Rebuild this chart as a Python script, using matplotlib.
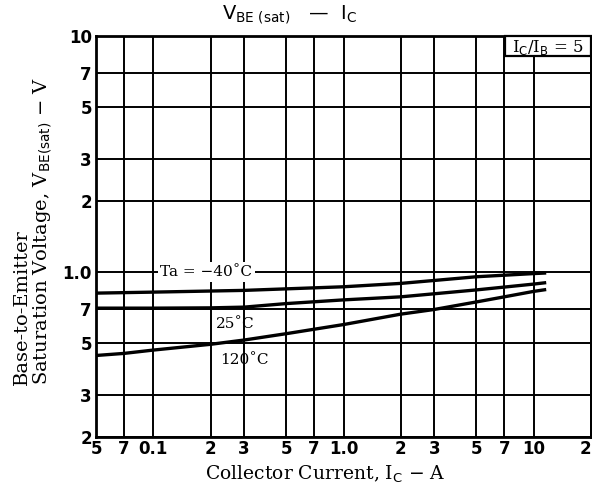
import matplotlib
matplotlib.use("Agg")
import matplotlib.pyplot as plt
from matplotlib.patches import Rectangle
from matplotlib.ticker import FixedLocator, FixedFormatter, NullLocator

# Data
ic_m40 = [0.05, 0.1, 0.3, 1.0, 2.0, 5.0, 10.0, 11.4]
vbe_m40 = [0.814, 0.822, 0.836, 0.866, 0.895, 0.955, 0.985, 0.99]

ic_25 = [0.05, 0.1, 0.2, 0.3, 0.5, 1.0, 2.0, 5.0, 10.0, 11.4]
vbe_25 = [0.703, 0.703, 0.705, 0.71, 0.735, 0.762, 0.785, 0.84, 0.889, 0.9]

ic_120 = [0.05, 0.07, 0.1, 0.2, 0.3, 0.5, 1.0, 2.0, 3.0, 5.0, 7.0, 10.0, 11.4]
vbe_120 = [0.443, 0.452, 0.467, 0.494, 0.515, 0.548, 0.599, 0.663, 0.694, 0.747, 0.785, 0.828, 0.841]

x_ticks = [0.05, 0.07, 0.1, 0.2, 0.3, 0.5, 0.7, 1.0, 2.0, 3.0, 5.0, 7.0, 10.0, 20.0]
x_labels = ["5", "7", "0.1", "2", "3", "5", "7", "1.0", "2", "3", "5", "7", "10", "2"]
y_ticks = [0.2, 0.3, 0.5, 0.7, 1.0, 2.0, 3.0, 5.0, 7.0, 10.0]
y_labels = ["2", "3", "5", "7", "1.0", "2", "3", "5", "7", "10"]

fig = plt.figure(figsize=(5.92, 4.86), dpi=100)
ax = fig.add_axes([96/592, 1-437/486, (591-96)/592, (437-36)/486])
ax.set_xscale("log")
ax.set_yscale("log")
ax.set_xlim(0.05, 20)
ax.set_ylim(0.2, 10)

for v in x_ticks:
    ax.axvline(v, color="black", lw=1.4, zorder=1)
for v in y_ticks:
    ax.axhline(v, color="black", lw=1.4, zorder=1)

ax.plot(ic_m40, vbe_m40, color="black", lw=2.4, zorder=3)
ax.plot(ic_25, vbe_25, color="black", lw=2.4, zorder=3)
ax.plot(ic_120, vbe_120, color="black", lw=2.4, zorder=3)

ax.xaxis.set_major_locator(FixedLocator(x_ticks))
ax.xaxis.set_major_formatter(FixedFormatter(x_labels))
ax.yaxis.set_major_locator(FixedLocator(y_ticks))
ax.yaxis.set_major_formatter(FixedFormatter(y_labels))
ax.xaxis.set_minor_locator(NullLocator())
ax.yaxis.set_minor_locator(NullLocator())
ax.tick_params(length=0)
ax.tick_params(axis="x", pad=2)
ax.tick_params(axis="y", pad=3)
for lab in ax.get_xticklabels() + ax.get_yticklabels():
    lab.set_fontweight("bold")
    lab.set_fontsize(12)
    lab.set_family("DejaVu Sans")
xl = ax.get_xticklabels()
xl[-1].set_horizontalalignment("right")
for s in ax.spines.values():
    s.set_linewidth(2)

serif = "DejaVu Serif"
ax.text(0.19, 1.0, "Ta = \u221240\u02daC", fontsize=11, family=serif, ha="center", va="center",
        bbox=dict(facecolor="white", edgecolor="none", pad=2), zorder=4)
ax.text(0.27, 0.6, "25\u02daC", fontsize=11, family=serif, ha="center", va="center", zorder=4)
ax.text(0.3, 0.425, "120\u02daC", fontsize=11, family=serif, ha="center", va="center", zorder=4)

bx0 = (505 - 96) / 495
by0 = 1 - (56 - 36) / 401
ax.add_patch(Rectangle((bx0, by0), 1 - bx0, 1 - by0, transform=ax.transAxes,
                       facecolor="white", edgecolor="black", lw=1.6, zorder=5, clip_on=False))
ax.text((bx0 + 1) / 2, (by0 + 1) / 2 - 0.003, r"I$_\mathrm{C}$/I$_\mathrm{B}$ = 5", transform=ax.transAxes,
        fontsize=12, family=serif, ha="center", va="center", zorder=6)

fig.text(290/592, 1 - 15/486, "V$_\\mathrm{BE\\ (sat)}$   \u2014  I$_\\mathrm{C}$",
         ha="center", va="center", fontsize=14, family="DejaVu Sans")
fig.text(325/592, 1 - 474/486, "Collector Current, I$_\\mathrm{C}$ \u2212 A",
         ha="center", va="center", fontsize=13.5, family=serif)
fig.text(22/592, 1 - 385/486, "Base-to-Emitter", rotation=90, ha="center", va="bottom",
         fontsize=14, family=serif)
fig.text(43/592, 1 - 385/486, "Saturation Voltage, V$_\\mathrm{BE(sat)}$ \u2212 V",
         rotation=90, ha="center", va="bottom", fontsize=14, family=serif)

fig.savefig("out.png", dpi=100)
